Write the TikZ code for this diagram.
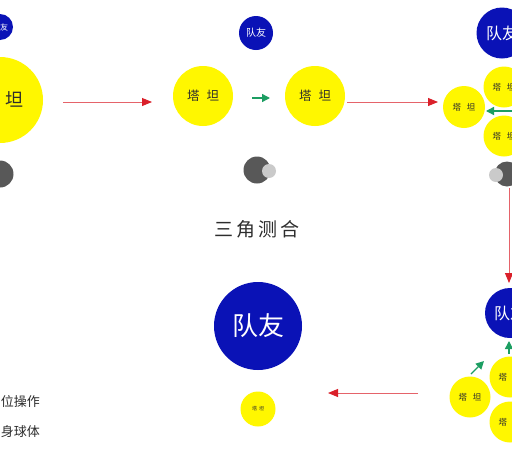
\documentclass[tikz,border=0pt]{standalone}
\usepackage{fontspec}
\newfontfamily\cjk{Noto Sans CJK SC}
\usetikzlibrary{arrows.meta}
\definecolor{yc}{RGB}{255,247,0}
\definecolor{bc}{RGB}{10,18,182}
\definecolor{gd}{RGB}{88,88,88}
\definecolor{gl}{RGB}{202,202,202}
\definecolor{rc}{RGB}{218,32,42}
\definecolor{gc}{RGB}{28,158,98}
\definecolor{tc}{RGB}{45,45,45}
\newcommand\cfs[1]{\cjk\fontsize{#1}{#1}\selectfont}
\begin{document}
\begin{tikzpicture}[x=1pt,y=-1pt,
  yball/.style={circle,fill=yc,inner sep=0pt,text=tc},
  bball/.style={circle,fill=bc,inner sep=0pt,text=white},
  dball/.style={circle,fill=gd,inner sep=0pt},
  lball/.style={circle,fill=gl,inner sep=0pt},
  redarrow/.style={draw=rc!70,line width=0.9pt,-{Triangle[length=10pt,width=8pt,color=rc]}},
  greenarrow/.style={draw=gc,line width=1.4pt,-{Triangle[length=8pt,width=8pt,color=gc]}},
  label/.style={text=tc,inner sep=0pt}]
\path[use as bounding box] (0,0) rectangle (512,453);
\clip (0,0) rectangle (512,453);
\fill[white] (0,0) rectangle (512,453);

% ---------- arrows (drawn first) ----------
\coordinate (ra1s) at (63,102);  \coordinate (ra1e) at (152,102);
\coordinate (ra2s) at (347,102); \coordinate (ra2e) at (438,102);
\coordinate (ra3s) at (509,188); \coordinate (ra3e) at (509,283);
\coordinate (ra4s) at (418,393); \coordinate (ra4e) at (328,393);
\coordinate (ga1s) at (252,98);  \coordinate (ga1e) at (270,98);
\coordinate (ga2s) at (514,111); \coordinate (ga2e) at (486,111);
\coordinate (ga3s) at (509,354); \coordinate (ga3e) at (509,341);
\coordinate (ga4s) at (471,374); \coordinate (ga4e) at (484,361);
\draw[redarrow] (ra1s) -- (ra1e);
\draw[redarrow] (ra2s) -- (ra2e);
\draw[redarrow] (ra3s) -- (ra3e);
\draw[redarrow] (ra4s) -- (ra4e);
\draw[greenarrow] (ga1s) -- (ga1e);
\draw[greenarrow] (ga2s) -- (ga2e);
\draw[greenarrow] (ga3s) -- (ga3e);
\draw[greenarrow] (ga4s) -- (ga4e);

% ---------- stage 1 (left, cut off) ----------
\node[bball,minimum size=26pt] (b0) at (0,27) {\cfs{8}队友};
\node[yball,minimum size=86pt] (y0) at (0,100) {\cfs{18}塔\hspace{12pt}坦};
\node[dball,minimum size=27pt] (d0) at (0,174) {};

% ---------- stage 2 ----------
\node[bball,minimum size=34pt] (b1) at (256,33) {\cfs{10}队友};
\node[yball,minimum size=60pt] (y1) at (203,96) {\cfs{12.5}塔\hspace{7pt}坦};
\node[yball,minimum size=60pt] (y2) at (315,96) {\cfs{12.5}塔\hspace{7pt}坦};
\node[dball,minimum size=27pt] (d1) at (257,170) {};
\node[lball,minimum size=14pt] (l1) at (269,171) {};
\node[label] (title) at (257,229) {\cfs{19}三\hspace{3pt}角\hspace{3pt}测\hspace{3pt}合};

% ---------- stage 3 (right, cut off) ----------
\node[bball,minimum size=51pt] (b2) at (502,33) {\cfs{16}队友};
\node[yball,minimum size=41pt] (y3) at (504,87) {\cfs{8.5}塔\hspace{6pt}坦};
\node[yball,minimum size=41pt] (y4) at (504,136) {\cfs{8.5}塔\hspace{6pt}坦};
\node[yball,minimum size=42pt] (y5) at (464,107) {\cfs{8.5}塔\hspace{6pt}坦};
\node[dball,minimum size=25pt] (d2) at (507,174) {};
\node[lball,minimum size=14pt] (l2) at (496,175) {};

% ---------- stage 4 (bottom right, cut off) ----------
\node[bball,minimum size=50pt] (b3) at (510,313) {\cfs{16}队友};
\node[yball,minimum size=41pt] (y6) at (510,377) {\cfs{8.5}塔\hspace{6pt}坦};
\node[yball,minimum size=41pt] (y7) at (510,422) {\cfs{8.5}塔\hspace{6pt}坦};
\node[yball,minimum size=41pt] (y8) at (470,397) {\cfs{8.5}塔\hspace{6pt}坦};

% ---------- stage 5 (bottom middle) ----------
\node[bball,minimum size=88pt] (b4) at (258,326) {\cfs{26}队友};
\node[yball,minimum size=35pt] (y9) at (258,409) {\cfs{5}塔\hspace{2pt}坦};

% ---------- legend (cut off at left) ----------
\node[label,anchor=east] (lg1) at (40,402) {\cfs{13}位操作};
\node[label,anchor=east] (lg2) at (40,432) {\cfs{13}身球体};
\end{tikzpicture}
\end{document}
